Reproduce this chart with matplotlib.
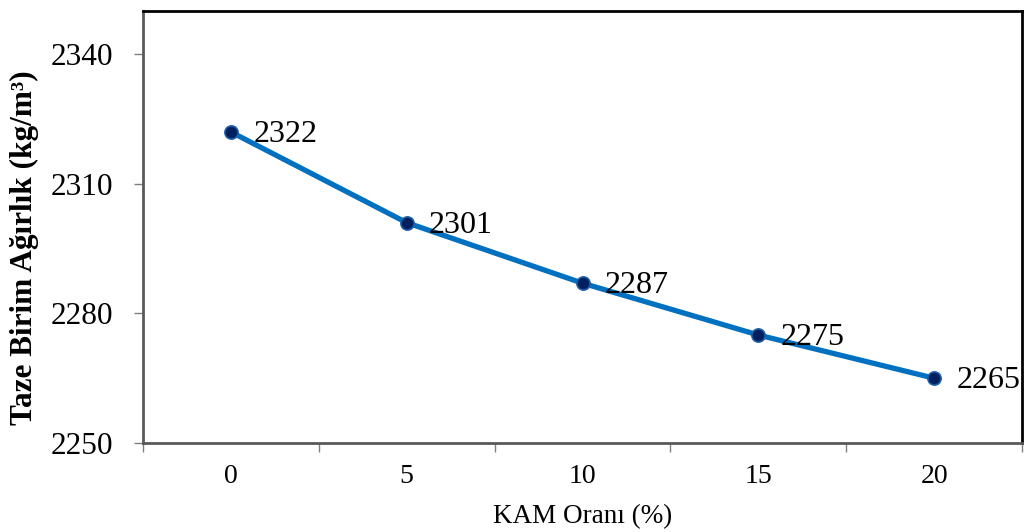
import numpy as np
import matplotlib.pyplot as plt

# KAM ratio vs fresh unit weight
kam_orani = ["0", "5", "10", "15", "20"]
birim_agirlik = [2322, 2301, 2287, 2275, 2265]
y_ticks = [2250, 2280, 2310, 2340]

plt.rcParams["font.family"] = ["Liberation Serif", "DejaVu Serif"]

fig = plt.figure(figsize=(10.32, 5.32), dpi=100)
ax = fig.add_axes([0.1386, 0.1673, 0.8517, 0.8120])

x = np.arange(len(kam_orani))
ax.plot(x, birim_agirlik, color="#0070C0", linewidth=3.8, zorder=2)
ax.plot(x, birim_agirlik, linestyle="none", marker="o", markersize=9.5,
        markerfacecolor="#002060", markeredgecolor="#1f5fa8",
        markeredgewidth=1.2, zorder=3)

for xi, yi in zip(x, birim_agirlik):
    ax.annotate(str(yi), (xi, yi), xytext=(16, -2), textcoords="offset points",
                ha="left", va="center", fontsize=23, zorder=4)

ax.set_xlim(-0.5, len(kam_orani) - 0.5)
ax.set_ylim(2250, 2350)
ax.set_yticks(y_ticks)
ax.set_xticks(x)
ax.set_xticklabels(kam_orani)
ax.set_xticks(np.arange(-0.5, len(kam_orani), 1), minor=True)

ax.tick_params(axis="y", labelsize=22.5, length=6.5, width=1, color="#7f7f7f",
               direction="out", pad=15)
ax.tick_params(axis="x", which="major", length=0, labelsize=20, pad=15)
ax.tick_params(axis="x", which="minor", length=6.5, width=1, color="#7f7f7f",
               direction="out")

for side in ["left", "bottom"]:
    ax.spines[side].set_color("#595959")
    ax.spines[side].set_linewidth(2)
for side in ["top", "right"]:
    ax.spines[side].set_color("black")
    ax.spines[side].set_linewidth(2)

ax.set_xlabel("KAM Oranı (%)", fontsize=19.5, labelpad=11)
ax.set_ylabel("Taze Birim Ağırlık (kg/m³)", fontsize=22.5, fontweight="bold")
ax.yaxis.set_label_coords(-0.118, 0.452)

fig.savefig("out.png", dpi=100)
